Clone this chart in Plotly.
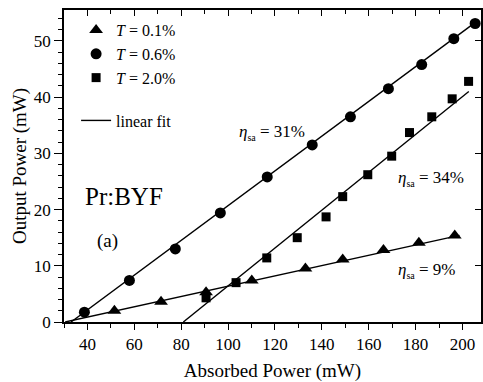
import plotly.graph_objects as go

# T = 0.1% (triangles)
x_t01 = [51.5, 71.4, 90.6, 110.1, 133.0, 148.9, 166.3, 181.4, 196.7]
y_t01 = [2.0, 3.6, 5.3, 7.4, 9.5, 11.1, 12.8, 14.1, 15.4]
# T = 0.6% (circles)
x_t06 = [38.7, 57.9, 77.5, 96.7, 116.7, 135.9, 152.2, 168.4, 182.6, 196.3, 205.4]
y_t06 = [1.75, 7.4, 13.0, 19.4, 25.8, 31.5, 36.5, 41.5, 45.8, 50.4, 53.1]
# T = 2.0% (squares)
x_t20 = [90.6, 103.4, 116.5, 129.5, 141.8, 148.9, 159.6, 169.8, 177.4, 186.9, 195.6, 202.6]
y_t20 = [4.3, 7.0, 11.4, 15.0, 18.7, 22.3, 26.2, 29.5, 33.7, 36.5, 39.7, 42.8]

# linear fit end points
fit_t01_x = [30.5, 198.7]
fit_t01_y = [0.0, 15.4]
fit_t06_x = [33.0, 206.5]
fit_t06_y = [0.0, 53.6]
fit_t20_x = [80.9, 202.7]
fit_t20_y = [0.0, 41.0]

x_range = [30, 207.9]
y_range = [0, 55.5]
x_ticks = [40, 60, 80, 100, 120, 140, 160, 180, 200]
y_ticks = [0, 10, 20, 30, 40, 50]

FONT = "Liberation Serif"
ETA = "<i>η</i><sub><span style='font-size:10px'>sa</span></sub>"

fig = go.Figure()

fig.add_trace(go.Scatter(x=x_t01, y=y_t01, mode="markers", name="<i>T</i> = 0.1%",
                         legendgroup="data",
                         marker=dict(symbol="triangle-up", size=12, color="black")))
fig.add_trace(go.Scatter(x=x_t06, y=y_t06, mode="markers", name="<i>T</i> = 0.6%",
                         legendgroup="data",
                         marker=dict(symbol="circle", size=11, color="black")))
fig.add_trace(go.Scatter(x=x_t20, y=y_t20, mode="markers", name="<i>T</i> = 2.0%",
                         legendgroup="data",
                         marker=dict(symbol="square", size=9, color="black")))

for i, (fx, fy) in enumerate([(fit_t01_x, fit_t01_y), (fit_t06_x, fit_t06_y), (fit_t20_x, fit_t20_y)]):
    fig.add_trace(go.Scatter(x=fx, y=fy, mode="lines", name="linear fit",
                             legendgroup="fit", showlegend=(i == 0),
                             line=dict(color="black", width=1.4)))

# dummy trace for mirrored (inside-tick) axes
fig.add_trace(go.Scatter(x=[None], y=[None], xaxis="x2", yaxis="y2",
                         showlegend=False, hoverinfo="skip"))

annots = [
    dict(x=103.6, y=33.7, text=ETA + " = 31%", size=17),
    dict(x=171.7, y=25.6, text=ETA + " = 34%", size=17),
    dict(x=171.7, y=9.2, text=ETA + " = 9%", size=17),
    dict(x=38.3, y=22.3, text="Pr:BYF", size=25),
    dict(x=43.2, y=14.4, text="(a)", size=19),
]
for a in annots:
    fig.add_annotation(x=a["x"], y=a["y"], text=a["text"], showarrow=False,
                       xanchor="left", yanchor="middle",
                       font=dict(family=FONT, size=a["size"], color="black"))

axis_common = dict(showgrid=False, zeroline=False, showline=True, linecolor="black",
                   linewidth=1.5, tickcolor="black", tickwidth=1.3)

fig.update_layout(
    width=483, height=382,
    margin=dict(l=64, r=2, t=10, b=60),
    paper_bgcolor="white", plot_bgcolor="white",
    font=dict(family=FONT, size=17, color="black"),
    showlegend=True,
    legend=dict(x=0.029, y=0.99, xanchor="left", yanchor="top",
                bgcolor="rgba(0,0,0,0)", font=dict(family=FONT, size=16, color="black"),
                traceorder="grouped", tracegroupgap=19, itemwidth=30),
    xaxis=dict(range=x_range, tickvals=x_ticks, ticks="outside", ticklen=6,
               minor=dict(dtick=10, tick0=0, ticks="outside", ticklen=4,
                          tickcolor="black", tickwidth=1.3),
               title=dict(text="Absorbed Power (mW)",
                          font=dict(family=FONT, size=19, color="black"), standoff=12),
               tickfont=dict(family=FONT, size=17, color="black"), **axis_common),
    yaxis=dict(range=y_range, tickvals=y_ticks, ticks="outside", ticklen=8,
               minor=dict(dtick=2, tick0=0, ticks="outside", ticklen=4,
                          tickcolor="black", tickwidth=1.3),
               title=dict(text="Output Power (mW)",
                          font=dict(family=FONT, size=19, color="black"), standoff=2),
               tickfont=dict(family=FONT, size=17, color="black"), **axis_common),
    xaxis2=dict(range=x_range, overlaying="x", side="top", tickvals=x_ticks,
                ticks="inside", ticklen=6, showticklabels=False,
                minor=dict(dtick=10, tick0=0, ticks="inside", ticklen=4,
                           tickcolor="black", tickwidth=1.3),
                **axis_common),
    yaxis2=dict(range=y_range, overlaying="y", side="right", tickvals=y_ticks,
                ticks="inside", ticklen=6, showticklabels=False,
                **axis_common),
)

fig.write_html("out.html", config={"displayModeBar": False},
               post_script="document.body.style.margin='0';document.body.style.padding='0';")
